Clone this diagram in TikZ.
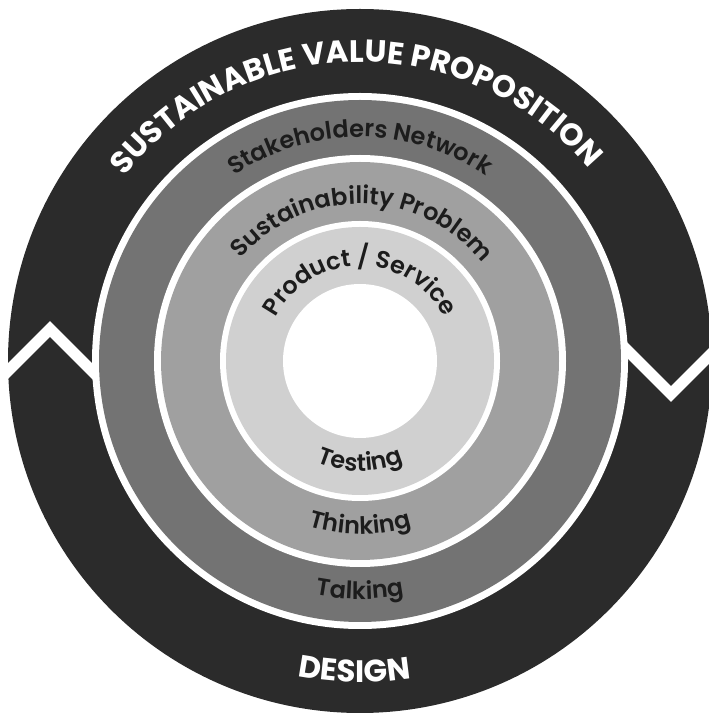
\documentclass[tikz,border=0pt]{standalone}
\usepackage{fontspec}
\setmainfont{Poppins}
\newfontfamily\semifont{Poppins SemiBold}
\usetikzlibrary{decorations.text}
\definecolor{ringdark}{HTML}{2B2B2B}
\definecolor{ringone}{HTML}{737373}
\definecolor{ringtwo}{HTML}{A0A0A0}
\definecolor{ringthree}{HTML}{D0D0D0}
\definecolor{labelink}{HTML}{1C1C1C}
\newcommand\svpfont{\bfseries\fontsize{31}{36}\selectfont}
\newcommand\designfont{\bfseries\fontsize{31}{36}\selectfont}
\newcommand\lblfont{\semifont\fontsize{24}{28}\selectfont}
\begin{document}
\begin{tikzpicture}[x=1pt,y=1pt,
  zigzag/.style={white, line width=11pt, miter limit=10},
  whitetext/.style={decorate, decoration={text along path, text align=center, text color=white, text={#1}}},
  inktext/.style={decorate, decoration={text along path, text align=center, text color=labelink, text={#1}}}]
\useasboundingbox (0,0) rectangle (709,713);
\coordinate (c) at (360,352);
% rings
\fill[ringdark] (c) circle[radius=352pt];
\draw[zigzag] (-20,314) -- (50,384) -- (120,314);
\draw[zigzag] (600,390) -- (671,319) -- (742,390);
\fill[white] (c) circle[radius=268pt];
\fill[ringone] (c) circle[radius=261pt];
\fill[white] (c) circle[radius=206pt];
\fill[ringtwo] (c) circle[radius=199pt];
\fill[white] (c) circle[radius=140pt];
\fill[ringthree] (c) circle[radius=134pt];
\fill[white] (c) circle[radius=77pt];
% top texts
\path[whitetext={|\svpfont|SUSTAINABLE VALUE PROPOSITION}]
  ([shift={(181:299pt)}]c) arc[start angle=181, end angle=1, radius=299pt];
\path[inktext={|\lblfont|Stakeholders Network}]
  ([shift={(170:224pt)}]c) arc[start angle=170, end angle=10, radius=224pt];
\path[inktext={|\lblfont|Sustainability Problem}]
  ([shift={(169:157pt)}]c) arc[start angle=169, end angle=9, radius=157pt];
\path[inktext={|\lblfont|Product / Service}]
  ([shift={(180:95pt)}]c) arc[start angle=180, end angle=0, radius=95pt];
% bottom texts
\path[inktext={|\lblfont|Testing}]
  ([shift={(200:110pt)}]c) arc[start angle=200, end angle=340, radius=110pt];
\path[inktext={|\lblfont|Thinking}]
  ([shift={(200:173pt)}]c) arc[start angle=200, end angle=340, radius=173pt];
\path[inktext={|\lblfont|Talking}]
  ([shift={(200:238pt)}]c) arc[start angle=200, end angle=340, radius=238pt];
\path[whitetext={|\designfont|DESIGN}]
  ([shift={(200:321pt)}]c) arc[start angle=200, end angle=338, radius=321pt];
\end{tikzpicture}
\end{document}
